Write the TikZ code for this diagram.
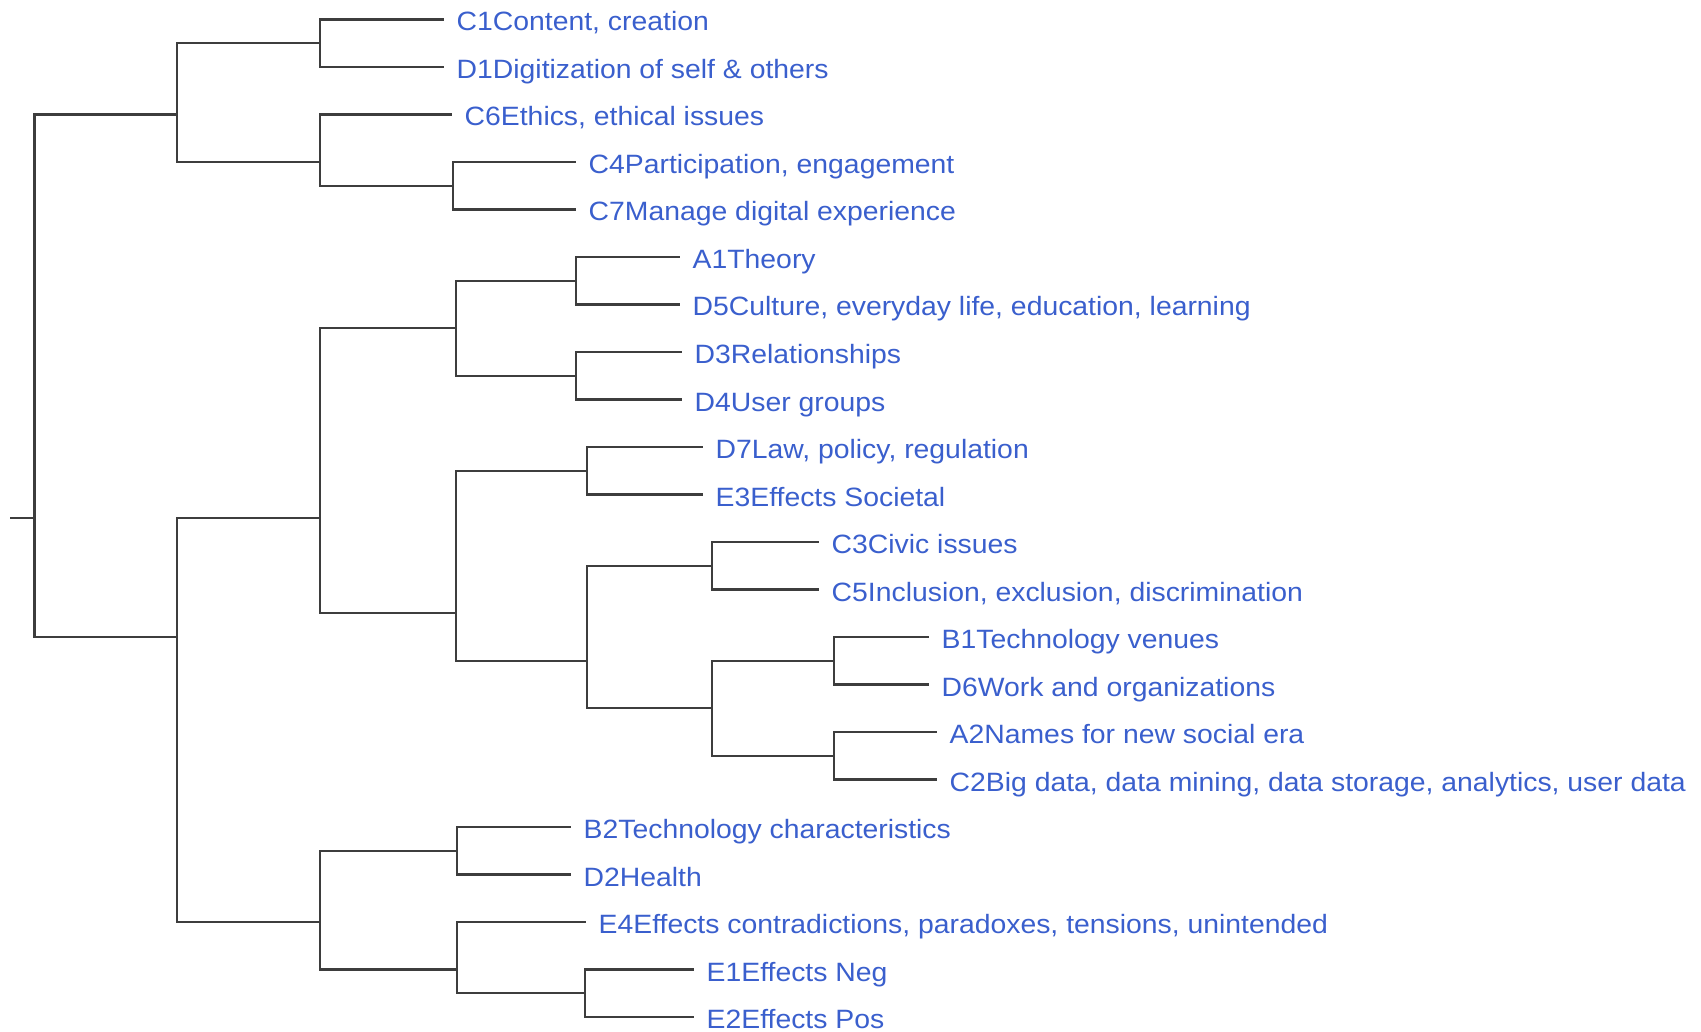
\documentclass[tikz,border=0pt]{standalone}
\usepackage{fontspec}
\setmainfont{Liberation Sans}[FakeStretch=1.07]
\definecolor{lblblue}{RGB}{58,95,205}
\begin{document}
\begin{tikzpicture}[x=1pt,y=-1pt,
  br/.style={draw=black!76, line width=2.2pt},
  lbl/.style={anchor=base west, inner sep=0pt, text=lblblue, font=\fontsize{26.5}{30}\selectfont}]
\useasboundingbox (0,0) rectangle (1701,1032);
% internal nodes
\coordinate (stub) at (10,518.25);
\coordinate (root) at (34.5,518.25);
\coordinate (ntop) at (177,114.5);
\coordinate (nbot) at (177,637);
\coordinate (nC1D1) at (320,43.25);
\coordinate (nC6C7) at (320,162);
\coordinate (nC4C7) at (453,185.75);
\coordinate (nmid) at (320,518.25);
\coordinate (nB2E2) at (320,922);
\coordinate (nA1D4) at (456,328.25);
\coordinate (nD7C2) at (456,613.25);
\coordinate (nA1D5) at (576,280.75);
\coordinate (nD3D4) at (576,375.75);
\coordinate (nD7E3) at (587,470.75);
\coordinate (nC3C2) at (587,660.75);
\coordinate (nC3C5) at (712,565.75);
\coordinate (nB1C2) at (712,708.25);
\coordinate (nB1D6) at (834,660.75);
\coordinate (nA2C2) at (834,755.75);
\coordinate (nB2D2) at (457,850.75);
\coordinate (nE4E2) at (457,969.5);
\coordinate (nE1E2) at (585,993.25);
% leaf tips
\coordinate (C1) at (444,19.5);
\coordinate (D1) at (444,67);
\coordinate (C6) at (452,114.5);
\coordinate (C4) at (576,162);
\coordinate (C7) at (576,209.5);
\coordinate (A1) at (680,257);
\coordinate (D5) at (680,304.5);
\coordinate (D3) at (682,352);
\coordinate (D4) at (682,399.5);
\coordinate (D7) at (703,447);
\coordinate (E3) at (703,494.5);
\coordinate (C3) at (819,542);
\coordinate (C5) at (819,589.5);
\coordinate (B1) at (929,637);
\coordinate (D6) at (929,684.5);
\coordinate (A2) at (937,732);
\coordinate (C2) at (937,779.5);
\coordinate (B2) at (571,827);
\coordinate (D2) at (571,874.5);
\coordinate (E4) at (586,922);
\coordinate (E1) at (694,969.5);
\coordinate (E2) at (694,1017);
% branches
\draw[br] (stub) -- (root);
\draw[br] (root) |- (ntop);
\draw[br] (root) |- (nbot);
\draw[br] (ntop) |- (nC1D1);
\draw[br] (ntop) |- (nC6C7);
\draw[br] (nC1D1) |- (C1);
\draw[br] (nC1D1) |- (D1);
\draw[br] (nC6C7) |- (C6);
\draw[br] (nC6C7) |- (nC4C7);
\draw[br] (nC4C7) |- (C4);
\draw[br] (nC4C7) |- (C7);
\draw[br] (nbot) |- (nmid);
\draw[br] (nbot) |- (nB2E2);
\draw[br] (nmid) |- (nA1D4);
\draw[br] (nmid) |- (nD7C2);
\draw[br] (nA1D4) |- (nA1D5);
\draw[br] (nA1D4) |- (nD3D4);
\draw[br] (nA1D5) |- (A1);
\draw[br] (nA1D5) |- (D5);
\draw[br] (nD3D4) |- (D3);
\draw[br] (nD3D4) |- (D4);
\draw[br] (nD7C2) |- (nD7E3);
\draw[br] (nD7C2) |- (nC3C2);
\draw[br] (nD7E3) |- (D7);
\draw[br] (nD7E3) |- (E3);
\draw[br] (nC3C2) |- (nC3C5);
\draw[br] (nC3C2) |- (nB1C2);
\draw[br] (nC3C5) |- (C3);
\draw[br] (nC3C5) |- (C5);
\draw[br] (nB1C2) |- (nB1D6);
\draw[br] (nB1C2) |- (nA2C2);
\draw[br] (nB1D6) |- (B1);
\draw[br] (nB1D6) |- (D6);
\draw[br] (nA2C2) |- (A2);
\draw[br] (nA2C2) |- (C2);
\draw[br] (nB2E2) |- (nB2D2);
\draw[br] (nB2E2) |- (nE4E2);
\draw[br] (nB2D2) |- (B2);
\draw[br] (nB2D2) |- (D2);
\draw[br] (nE4E2) |- (E4);
\draw[br] (nE4E2) |- (nE1E2);
\draw[br] (nE1E2) |- (E1);
\draw[br] (nE1E2) |- (E2);
% labels
\node[lbl] (tC1) at ([xshift=12.5pt,yshift=-11.5pt]C1) {C1Content, creation};
\node[lbl] (tD1) at ([xshift=12.5pt,yshift=-11.5pt]D1) {D1Digitization of self \& others};
\node[lbl] (tC6) at ([xshift=12.5pt,yshift=-11.5pt]C6) {C6Ethics, ethical issues};
\node[lbl] (tC4) at ([xshift=12.5pt,yshift=-11.5pt]C4) {C4Participation, engagement};
\node[lbl] (tC7) at ([xshift=12.5pt,yshift=-11.5pt]C7) {C7Manage digital experience};
\node[lbl] (tA1) at ([xshift=12.5pt,yshift=-11.5pt]A1) {A1Theory};
\node[lbl] (tD5) at ([xshift=12.5pt,yshift=-11.5pt]D5) {D5Culture, everyday life, education, learning};
\node[lbl] (tD3) at ([xshift=12.5pt,yshift=-11.5pt]D3) {D3Relationships};
\node[lbl] (tD4) at ([xshift=12.5pt,yshift=-11.5pt]D4) {D4User groups};
\node[lbl] (tD7) at ([xshift=12.5pt,yshift=-11.5pt]D7) {D7Law, policy, regulation};
\node[lbl] (tE3) at ([xshift=12.5pt,yshift=-11.5pt]E3) {E3Effects Societal};
\node[lbl] (tC3) at ([xshift=12.5pt,yshift=-11.5pt]C3) {C3Civic issues};
\node[lbl] (tC5) at ([xshift=12.5pt,yshift=-11.5pt]C5) {C5Inclusion, exclusion, discrimination};
\node[lbl] (tB1) at ([xshift=12.5pt,yshift=-11.5pt]B1) {B1Technology venues};
\node[lbl] (tD6) at ([xshift=12.5pt,yshift=-11.5pt]D6) {D6Work and organizations};
\node[lbl] (tA2) at ([xshift=12.5pt,yshift=-11.5pt]A2) {A2Names for new social era};
\node[lbl] (tC2) at ([xshift=12.5pt,yshift=-11.5pt]C2) {C2Big data, data mining, data storage, analytics, user data};
\node[lbl] (tB2) at ([xshift=12.5pt,yshift=-11.5pt]B2) {B2Technology characteristics};
\node[lbl] (tD2) at ([xshift=12.5pt,yshift=-11.5pt]D2) {D2Health};
\node[lbl] (tE4) at ([xshift=12.5pt,yshift=-11.5pt]E4) {E4Effects contradictions, paradoxes, tensions, unintended};
\node[lbl] (tE1) at ([xshift=12.5pt,yshift=-11.5pt]E1) {E1Effects Neg};
\node[lbl] (tE2) at ([xshift=12.5pt,yshift=-11.5pt]E2) {E2Effects Pos};
\end{tikzpicture}
\end{document}
